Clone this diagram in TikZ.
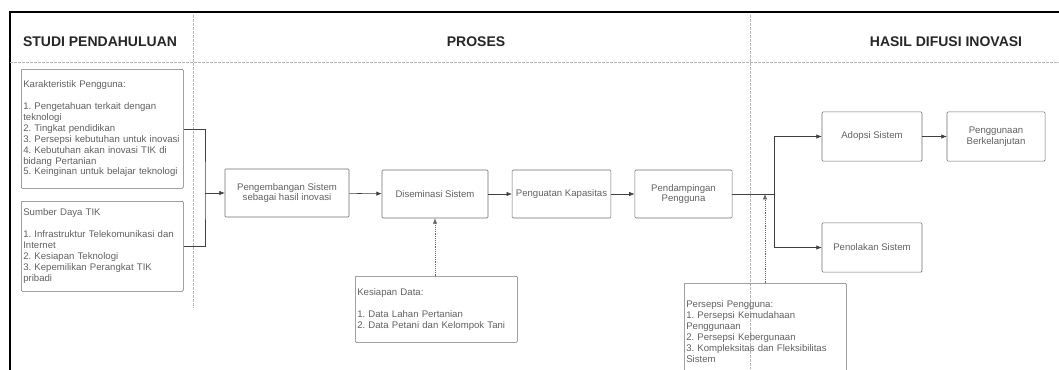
\documentclass[tikz,border=0pt]{standalone}
\usepackage{fontspec}
\setmainfont{Liberation Sans}
\usetikzlibrary{arrows.meta,positioning,calc}

\definecolor{boxline}{HTML}{6E6E6E}
\definecolor{boxtext}{HTML}{606060}
\definecolor{sepline}{HTML}{B4B4B4}

\begin{document}
\frenchspacing
\begin{tikzpicture}[x=0.75pt,y=-0.75pt,
    kotak/.style={draw=boxline, rounded corners=0.8pt, text=boxtext, font=\fontsize{7.2}{8.2}\selectfont, align=center, inner sep=1.5pt},
    daftar/.style={kotak, align=left, anchor=north west, text width=#1},
    judul/.style={font=\fontsize{10.5}{12}\selectfont\bfseries, text=black!85},
    panah/.style={draw=black!75, -{Latex[length=4pt,width=3.2pt]}},
    garis/.style={draw=black!75},
    putus/.style={draw=black!60, densely dotted, -{Latex[length=4pt,width=3.2pt]}},
    pemisah/.style={draw=sepline, dashed, dash pattern=on 2pt off 1pt}]
    \clip (0,0) rectangle (1059,369);

    % bingkai dan kolom
    \draw[line width=2.2pt] (10,372) -- (10,12) -- (1062,12);
    \draw[pemisah] (10,62) -- (1059,62);
    \draw[pemisah] (193,15) -- (193,308);
    \draw[pemisah] (750,15) -- (750,369);

    \node[judul] (jstudi) at (100,42) {STUDI PENDAHULUAN};
    \node[judul] (jproses) at (476,42) {PROSES};
    \node[judul] (jhasil) at (946,42) {HASIL DIFUSI INOVASI};

    % studi pendahuluan
    \node[daftar=118.5pt, minimum height=89.25pt] (karakter) at (21,69) {Karakteristik Pengguna:\\[8.2pt]
      1. Pengetahuan terkait dengan\\teknologi\\2. Tingkat pendidikan\\3. Persepsi kebutuhan untuk inovasi\\
      4. Kebutuhan akan inovasi TIK di\\bidang Pertanian\\5. Keinginan untuk belajar teknologi};
    \node[daftar=118.5pt, minimum height=67.5pt] (sumber) at (21,201) {Sumber Daya TIK\\[8.2pt]
      1. Infrastruktur Telekomunikasi dan\\Internet\\2. Kesiapan Teknologi\\3. Kepemilikan Perangkat TIK\\pribadi};

    % proses
    \node[kotak, minimum width=93pt, minimum height=36pt] (kembang) at (287,193) {Pengembangan Sistem\\sebagai hasil inovasi};
    \node[kotak, minimum width=79.5pt, minimum height=36pt] (sebar) at (435,194) {Diseminasi Sistem};
    \node[kotak, minimum width=74pt, minimum height=36pt] (kuat) at (561.5,194) {Penguatan Kapasitas};
    \node[kotak, minimum width=73pt, minimum height=36pt] (damping) at (683.5,194) {Pendampingan\\Pengguna};
    \node[daftar=118.5pt, minimum height=49.5pt] (data) at (355,276) {Kesiapan Data:\\[8.2pt]
      1. Data Lahan Pertanian\\2. Data Petani dan Kelompok Tani};
    \node[daftar=118.5pt, minimum height=72pt] (persepsi) at (684,283) {Persepsi Pengguna:\\
      1. Persepsi Kemudahaan\\Penggunaan\\2. Persepsi Kebergunaan\\3. Kompleksitas dan Fleksibilitas\\Sistem};

    % hasil
    \node[kotak, minimum width=75pt, minimum height=37pt] (adopsi) at (872,136.5) {Adopsi Sistem};
    \node[kotak, minimum width=73.5pt, minimum height=37pt] (lanjut) at (996,136.5) {Penggunaan\\Berkelanjutan};
    \node[kotak, minimum width=75pt, minimum height=37pt] (tolak) at (872,247.5) {Penolakan Sistem};

    \coordinate (kumpul) at (205,193);
    \coordinate (cabang) at (774,194);

    \draw[garis] (karakter.east) -| (kumpul) |- (sumber.east);
    \draw[panah] (kumpul) -- (kembang.west);
    \draw[panah] (kembang) -- (sebar);
    \draw[panah] (sebar) -- (kuat);
    \draw[panah] (kuat) -- (damping);
    \draw[garis] (damping.east) -- (cabang);
    \draw[panah] (cabang) |- (adopsi.west);
    \draw[panah] (cabang) |- (tolak.west);
    \draw[panah] (adopsi) -- (lanjut);
    \draw[putus] (data.north -| sebar) -- (sebar.south);
    \draw[putus] ($(persepsi.north west)+(81,0)$) -- ($(cabang)+(-9,0)$);
\end{tikzpicture}
\end{document}
